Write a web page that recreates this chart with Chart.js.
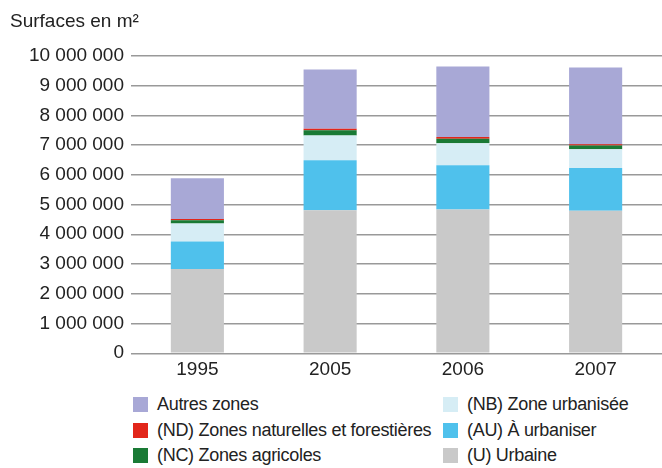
<!DOCTYPE html>
<html>
<head>
<meta charset="utf-8">
<script src="https://cdn.jsdelivr.net/npm/chart.js@4"></script>
<style>
  body { margin: 0; background: #fff; font-family: "Liberation Sans", sans-serif; }
  #wrap { position: relative; width: 662px; height: 468px; }
  #chart { position: absolute; left: 0; top: 0; }
  #legend { position: absolute; left: 133px; top: 392px; width: 530px; font-size: 18px; letter-spacing: -0.3px; color: #222; }
  .item { position: absolute; height: 24px; line-height: 24px; white-space: nowrap; }
  .box { display: inline-block; width: 15px; height: 15px; vertical-align: -2px; margin-right: 9px; }
</style>
</head>
<body>
<div id="wrap">
  <canvas id="chart" width="662" height="386"></canvas>
  <div id="legend"></div>
</div>
<script>
// annees
const years = ['1995', '2005', '2006', '2007'];

// surfaces en m2, par zone (du bas vers le haut de la pile)
const urbaine = [2830000, 4810000, 4830000, 4790000];
const aUrbaniser = [930000, 1680000, 1490000, 1440000];
const zoneUrbanisee = [600000, 830000, 740000, 630000];
const zonesAgricoles = [110000, 180000, 150000, 120000];
const zonesNaturelles = [40000, 50000, 60000, 50000];
const autresZones = [1370000, 1990000, 2370000, 2580000];

const yTicks = [0, 1000000, 2000000, 3000000, 4000000, 5000000, 6000000, 7000000, 8000000, 9000000, 10000000];

const fontName = '"Liberation Sans", sans-serif';

function fmt(v) {
    return String(v).replace(/\B(?=(\d{3})+(?!\d))/g, ' ');
}

const datasets = [
    { label: '(U) Urbaine', data: urbaine, backgroundColor: '#c9c9c9' },
    { label: '(AU) À urbaniser', data: aUrbaniser, backgroundColor: '#4fc1ec' },
    { label: '(NB) Zone urbanisée', data: zoneUrbanisee, backgroundColor: '#d6edf5' },
    { label: '(NC) Zones agricoles', data: zonesAgricoles, backgroundColor: '#1a7a35' },
    { label: '(ND) Zones naturelles et forestières', data: zonesNaturelles, backgroundColor: '#e2261a' },
    { label: 'Autres zones', data: autresZones, backgroundColor: '#a8a8d6' }
];
datasets.forEach(d => {
    d.barPercentage = 0.4;
    d.categoryPercentage = 1;
    d.borderWidth = 0;
});

const ctx = document.getElementById('chart').getContext('2d');
const chart = new Chart(ctx, {
    type: 'bar',
    data: { labels: years, datasets: datasets },
    options: {
        responsive: false,
        animation: false,
        layout: { padding: { left: 10, right: 0, top: 0, bottom: 0 } },
        scales: {
            x: {
                stacked: true,
                grid: { display: false, drawTicks: false },
                border: { display: false },
                ticks: { color: '#222', font: { family: fontName, size: 19 }, padding: 5 }
            },
            y: {
                stacked: true,
                min: 0,
                max: 10000000,
                afterBuildTicks: axis => { axis.ticks = yTicks.map(v => ({ value: v })); },
                afterFit: axis => { axis.width = 121; },
                grid: { color: '#999999', lineWidth: 1.4, drawTicks: false },
                border: { display: false },
                ticks: {
                    color: '#222',
                    font: { family: fontName, size: 19 },
                    padding: 7,
                    callback: v => fmt(v)
                }
            }
        },
        plugins: {
            legend: { display: false },
            tooltip: { enabled: false },
            title: {
                display: true,
                text: 'Surfaces en m²',
                align: 'start',
                color: '#222',
                font: { family: fontName, size: 19, weight: 'normal' },
                padding: { top: 10, bottom: 23 }
            }
        }
    }
});

// legende en deux colonnes
const legendOrder = [
    [5, 0, 0], [4, 0, 1], [3, 0, 2],
    [2, 1, 0], [1, 1, 1], [0, 1, 2]
];
const legend = document.getElementById('legend');
legendOrder.forEach(([i, col, row]) => {
    const d = datasets[i];
    const el = document.createElement('div');
    el.className = 'item';
    el.style.left = (col * 310) + 'px';
    el.style.top = (row * 25.5) + 'px';
    el.innerHTML = '<span class="box" style="background:' + d.backgroundColor + '"></span>' + d.label;
    legend.appendChild(el);
});
</script>
</body>
</html>
